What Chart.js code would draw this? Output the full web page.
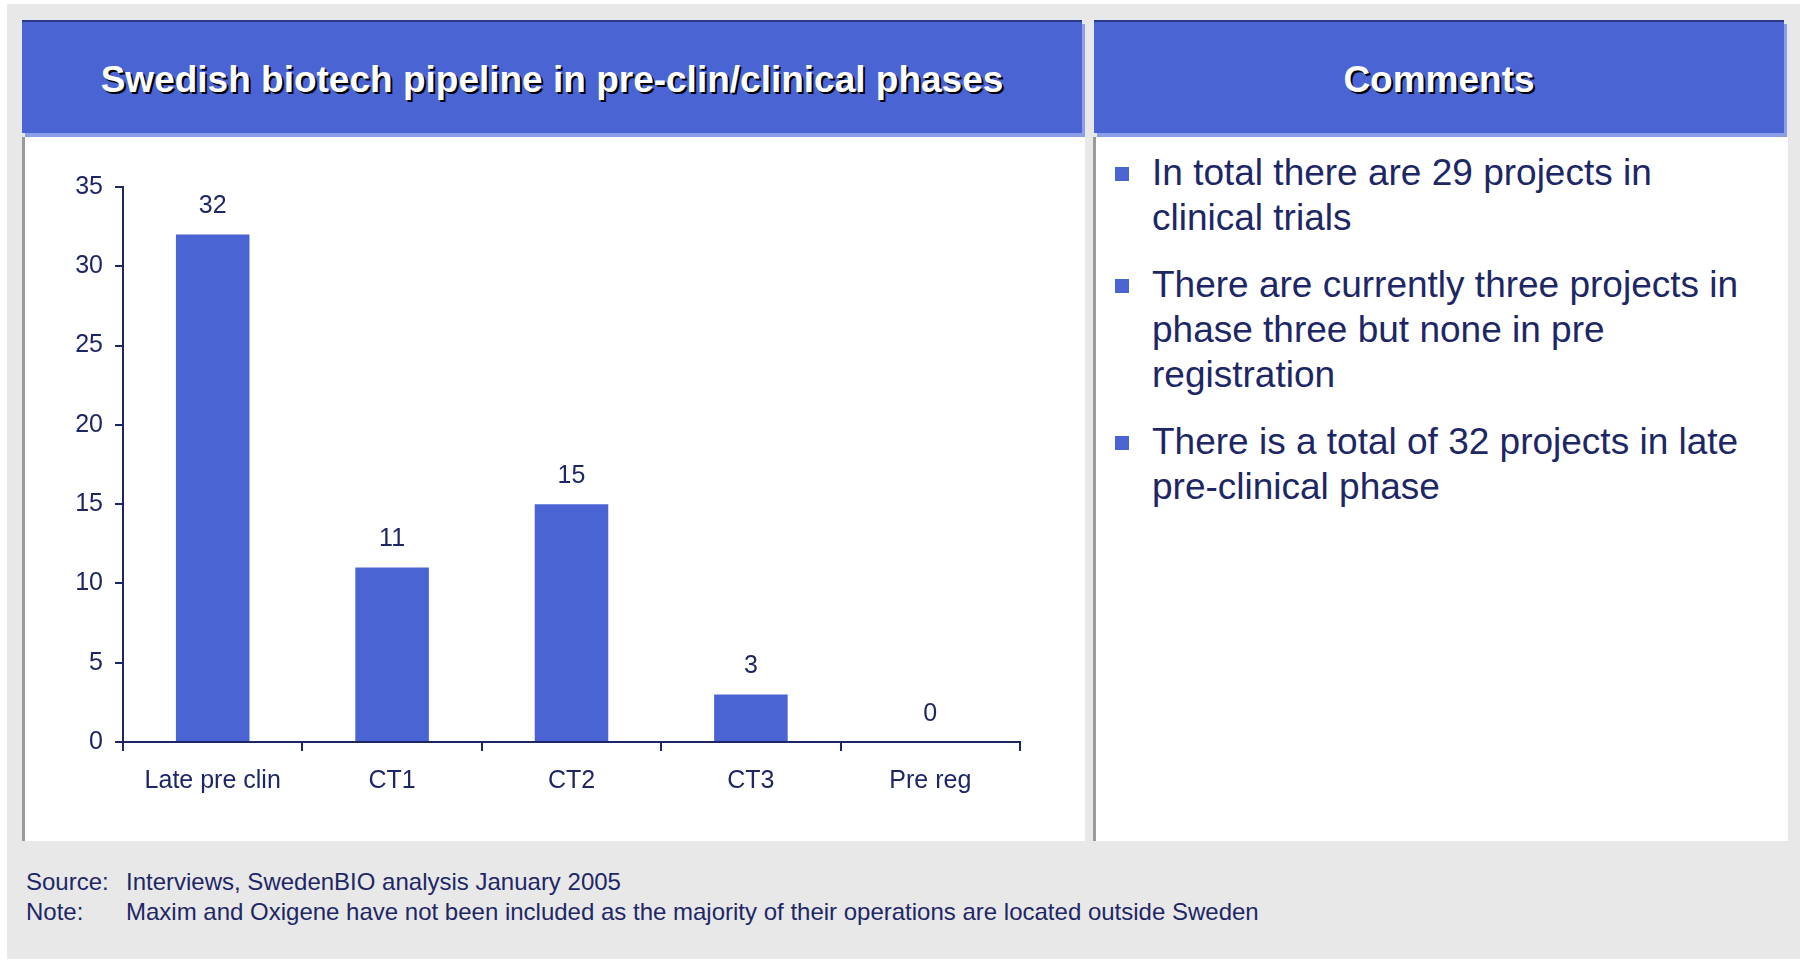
<!DOCTYPE html>
<html>
<head>
<meta charset="utf-8">
<script src="https://cdn.jsdelivr.net/npm/chart.js@4.4.1/dist/chart.umd.min.js"></script>
<style>
  body { margin: 0; width: 1802px; height: 961px; background: #fff; position: relative; overflow: hidden;
         font-family: "Liberation Sans", Arial, sans-serif; color: #1e2766; }
  .frame { position: absolute; left: 7px; top: 4px; width: 1793px; height: 955px; background: #e8e8e8; }
  .head { position: absolute; top: 20px; height: 111px; background: #4a64d4; border-top: 2px solid #2b3a8a;
          box-shadow: 3px 4px 0 #8c9ee6; color: #fff; font-weight: bold; font-size: 37px; box-sizing: border-box;
          padding-top: 5px; display: flex; align-items: center; justify-content: center; text-shadow: 2px 2px 0 #000; }
  .panel { position: absolute; top: 137px; height: 704px; background: #fff; border-left: 3px solid #9a9a9a; }
  #chartWrap { position: absolute; left: 25px; top: 137px; width: 1058px; height: 702px; }
  .comments { position: absolute; left: 1152px; top: 150px; font-size: 37px; line-height: 45px; white-space: nowrap; }
  .comments p { margin: 0 0 22px 0; position: relative; }
  .comments p::before { content: ''; position: absolute; left: -37px; top: 17px; width: 14px; height: 14px; background: #4a64d4; }
  .foot { position: absolute; left: 26px; font-size: 24px; line-height: 30px; white-space: nowrap; }
  .foot span { display: inline-block; width: 100px; }
</style>
</head>
<body>
<div class="frame"></div>

<div class="head" style="left:22px; width:1060px; height:113px;">Swedish biotech pipeline in pre-clin/clinical phases</div>
<div class="panel" style="left:22px; width:1060px;"></div>
<div id="chartWrap"><canvas id="pipelineChart" width="1058" height="702"></canvas></div>

<div class="head" style="left:1094px; width:690px; height:113px;">Comments</div>
<div class="panel" style="left:1093px; width:692px;"></div>
<div class="comments">
  <p>In total there are 29 projects in<br>clinical trials</p>
  <p>There are currently three projects in<br>phase three but none in pre<br>registration</p>
  <p>There is a total of 32 projects in late<br>pre-clinical phase</p>
</div>

<div class="foot" style="top:867px;"><span>Source:</span>Interviews, SwedenBIO analysis January 2005</div>
<div class="foot" style="top:897px;"><span>Note:</span>Maxim and Oxigene have not been included as the majority of their operations are located outside Sweden</div>

<script>
const phases = ['Late pre clin', 'CT1', 'CT2', 'CT3', 'Pre reg'];
const projectCounts = [32, 11, 15, 3, 0];
const yTicks = [0, 5, 10, 15, 20, 25, 30, 35];

const NAVY = '#1e2766';
const BAR_BLUE = '#4a64d4';
const FONT = '"Liberation Sans", Arial, sans-serif';

// value labels above each bar
const valueLabels = {
  id: 'valueLabels',
  afterDatasetsDraw(chart) {
    const ctx = chart.ctx;
    const meta = chart.getDatasetMeta(0);
    ctx.save();
    ctx.font = `25px ${FONT}`;
    ctx.fillStyle = NAVY;
    ctx.textAlign = 'center';
    ctx.textBaseline = 'middle';
    meta.data.forEach((bar, i) => ctx.fillText(String(projectCounts[i]), bar.x, bar.y - 28));
    ctx.restore();
  }
};

new Chart(document.getElementById('pipelineChart').getContext('2d'), {
  type: 'bar',
  data: {
    labels: phases,
    datasets: [{
      data: projectCounts,
      backgroundColor: BAR_BLUE,
      borderWidth: 0,
      categoryPercentage: 1,
      barPercentage: 0.41,
    }],
  },
  options: {
    responsive: false,
    animation: false,
    layout: { padding: { left: 0, top: 50, right: 63, bottom: 0 } },
    plugins: { legend: { display: false }, tooltip: { enabled: false } },
    scales: {
      x: {
        afterFit: s => { s.height = 97; },
        grid: { offset: true, drawOnChartArea: false, drawTicks: true, tickLength: 9, color: NAVY, lineWidth: 2 },
        border: { display: true, color: NAVY, width: 2 },
        ticks: { color: NAVY, font: { family: FONT, size: 25 }, padding: 15, maxRotation: 0 },
      },
      y: {
        min: yTicks[0],
        max: yTicks[yTicks.length - 1],
        afterFit: s => { s.width = 98; },
        afterBuildTicks: s => { s.ticks = yTicks.map(v => ({ value: v })); },
        grid: { drawOnChartArea: false, drawTicks: true, tickLength: 8, color: NAVY, lineWidth: 2 },
        border: { display: true, color: NAVY, width: 2 },
        ticks: { color: NAVY, font: { family: FONT, size: 25 }, padding: 12 },
      },
    },
  },
  plugins: [valueLabels],
});
</script>
</body>
</html>
